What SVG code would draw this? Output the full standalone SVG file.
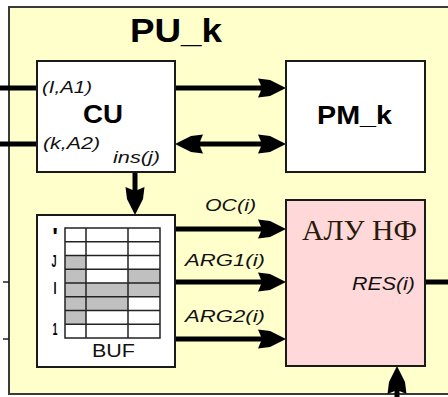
<svg xmlns="http://www.w3.org/2000/svg" width="448" height="397" viewBox="0 0 448 397">
<defs>
<style>
.box{stroke:#1a1a1a;stroke-width:2}
.wire{stroke:#000;stroke-width:5;fill:none}
.thin{stroke:#222;stroke-width:1.5;fill:none}
.lbl{font-family:"Liberation Sans",Arial,sans-serif;font-style:italic;fill:#111}
.ttl{font-family:"Liberation Sans",Arial,sans-serif;font-weight:bold;fill:#000}
.grid{stroke:#222;stroke-width:1.5;fill:none}
.gray{fill:#c0c0c0}
.mk{font-family:"Liberation Sans",Arial,sans-serif;font-weight:bold;fill:#000}
</style>
<marker id="ah" markerUnits="userSpaceOnUse" markerWidth="30" markerHeight="20" refX="10" refY="10" orient="auto-start-reverse" overflow="visible">
<path d="M0,0.5 L12,2 L28,10 L12,18 L0,19.5 L4,10 Z" fill="#000"/>
</marker>
</defs>
<rect x="0" y="0" width="448" height="397" fill="#fff"/>
<g id="pu_k">
<rect x="9" y="7" width="450" height="387" fill="#ffffcc" stroke="#3a3a3a" stroke-width="2"/>
<text class="ttl" x="130" y="42" font-size="34" textLength="92" lengthAdjust="spacingAndGlyphs">PU_k</text>
</g>
<g id="connectors">
<line class="wire" x1="0" y1="88" x2="37" y2="88"/>
<line class="wire" x1="0" y1="144" x2="37" y2="144"/>
<line class="wire" x1="175" y1="88" x2="268" y2="88" marker-end="url(#ah)"/>
<line class="wire" x1="193" y1="144" x2="268" y2="144" marker-start="url(#ah)" marker-end="url(#ah)"/>
<line class="wire" x1="135" y1="172" x2="135" y2="197" marker-end="url(#ah)"/>
<line class="wire" x1="175" y1="229" x2="268" y2="229" marker-end="url(#ah)"/>
<line class="wire" x1="175" y1="282" x2="268" y2="282" marker-end="url(#ah)"/>
<line class="wire" x1="175" y1="339" x2="268" y2="339" marker-end="url(#ah)"/>
<line class="wire" x1="425" y1="282" x2="448" y2="282"/>
<line class="wire" x1="397" y1="400" x2="397" y2="384" marker-end="url(#ah)"/>
<line class="thin" x1="3" y1="282" x2="9" y2="282"/>
<line class="thin" x1="3" y1="339" x2="9" y2="339"/>
</g>
<g id="cu">
<rect class="box" x="37" y="61" width="138" height="111" fill="#fff"/>
<text class="ttl" x="83" y="123" font-size="26" textLength="40" lengthAdjust="spacingAndGlyphs">CU</text>
<text class="lbl" x="42" y="93" font-size="16" textLength="50" lengthAdjust="spacingAndGlyphs">(I,A1)</text>
<text class="lbl" x="43" y="149" font-size="16" textLength="57" lengthAdjust="spacingAndGlyphs">(k,A2)</text>
<text class="lbl" x="113" y="163" font-size="16" textLength="47" lengthAdjust="spacingAndGlyphs">ins(j)</text>
</g>
<g id="pm_k">
<rect class="box" x="286" y="61" width="139" height="111" fill="#fff"/>
<text class="ttl" x="317" y="124" font-size="26" textLength="75" lengthAdjust="spacingAndGlyphs">PM_k</text>
</g>
<g id="buf">
<rect class="box" x="37" y="215" width="138" height="152" fill="#fff"/>
<rect class="gray" x="65" y="255.5" width="21" height="41.25"/>
<rect class="gray" x="128" y="269.25" width="32" height="27.5"/>
<rect class="gray" x="86" y="283" width="42" height="27.5"/>
<rect class="gray" x="65" y="296.75" width="21" height="27.5"/>
<rect class="grid" x="65" y="228" width="95" height="110"/>
<path class="grid" d="M86,228V338 M128,228V338 M65,241.75H160 M65,255.5H160 M65,269.25H160 M65,283H160 M65,296.75H160 M65,310.5H160 M65,324.25H160"/>
<text class="mk" x="55" y="245" text-anchor="middle" font-size="24">'</text>
<text class="mk" x="54" y="267" text-anchor="middle" font-size="17" textLength="5" lengthAdjust="spacingAndGlyphs">J</text>
<text class="mk" x="55" y="294" text-anchor="middle" font-size="17" textLength="3" lengthAdjust="spacingAndGlyphs">I</text>
<text class="mk" x="55" y="335" text-anchor="middle" font-size="17" textLength="5" lengthAdjust="spacingAndGlyphs">1</text>
<text x="92" y="357" font-family="'Liberation Sans',Arial,sans-serif" font-size="18" fill="#111" textLength="43" lengthAdjust="spacingAndGlyphs">BUF</text>
</g>
<g id="alu">
<rect class="box" x="286" y="200" width="139" height="166" fill="#ffd9d9"/>
<text x="302" y="240" font-family="'Liberation Serif','Times New Roman',serif" font-size="29" fill="#2a1a0a" textLength="115" lengthAdjust="spacingAndGlyphs">АЛУ НФ</text>
<text class="lbl" x="352" y="290" font-size="18" textLength="63" lengthAdjust="spacingAndGlyphs">RES(i)</text>
</g>
<g id="labels">
<text class="lbl" x="205" y="211" font-size="17" textLength="51" lengthAdjust="spacingAndGlyphs">OC(i)</text>
<text class="lbl" x="185" y="266" font-size="17" textLength="80" lengthAdjust="spacingAndGlyphs">ARG1(i)</text>
<text class="lbl" x="185" y="322" font-size="17" textLength="80" lengthAdjust="spacingAndGlyphs">ARG2(i)</text>
</g>
</svg>
